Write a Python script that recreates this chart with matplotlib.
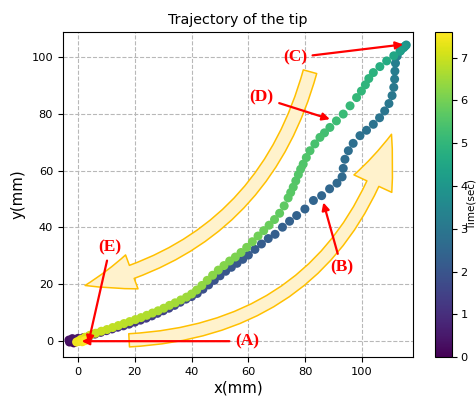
import matplotlib
matplotlib.use("Agg")
import matplotlib.pyplot as plt
from matplotlib.patches import FancyArrowPatch, ArrowStyle

# ---- data: outbound path (tip moving out) ----
out_x = [0.0, -1.5, -3.0, -3.2, -2.0, 0.0, 2.0, 4.0, 6.0, 8.0, 10.0, 12.0, 14.0, 16.0,
         18.0, 20.0, 22.0, 24.0, 26.0, 28.0, 30.0, 32.0, 34.0, 36.0, 38.0, 40.0, 42.0,
         44.0, 46.0, 48.0, 50.0, 52.0, 54.0, 56.0, 58.0, 60.0, 62.3, 64.6, 67.0, 69.4,
         72.0, 74.5, 77.0, 79.9, 82.9, 85.8, 88.6, 91.2, 93.0, 93.4, 94.0, 95.2, 96.9,
         99.3, 101.6, 104.0, 106.2, 108.0, 109.5, 110.6, 111.2, 111.5, 111.6, 111.8,
         112.4, 113.6, 114.8, 115.6]
out_y = [0.0, -0.6, -0.3, 0.4, 0.9, 1.0, 1.3, 1.8, 2.5, 3.1, 3.7, 4.3, 4.9, 5.4,
         6.0, 6.7, 7.4, 8.1, 8.9, 9.8, 10.7, 11.6, 12.6, 13.7, 14.8, 15.7, 16.8,
         18.3, 19.8, 21.4, 23.0, 24.6, 26.0, 27.4, 28.8, 30.3, 32.3, 34.2, 36.1, 37.6,
         40.1, 42.2, 44.2, 46.5, 49.5, 51.2, 53.6, 55.6, 57.8, 60.8, 64.0, 67.0, 69.6,
         72.3, 74.2, 76.3, 78.6, 81.0, 83.6, 86.4, 89.3, 92.2, 95.0, 97.8,
         100.3, 102.2, 103.5, 104.2]
out_t = [0.0, 0.1, 0.2, 0.3, 0.4, 0.5, 0.6, 0.7, 0.8, 0.9, 1.0, 1.05, 1.1, 1.15,
         1.2, 1.25, 1.3, 1.35, 1.4, 1.45, 1.5, 1.55, 1.6, 1.65, 1.7, 1.75, 1.8,
         1.85, 1.9, 1.95, 2.0, 2.03, 2.06, 2.09, 2.12, 2.15, 2.18, 2.21, 2.24, 2.27,
         2.3, 2.33, 2.36, 2.4, 2.44, 2.48, 2.52, 2.56, 2.6, 2.64, 2.68, 2.72, 2.76,
         2.8, 2.84, 2.88, 2.92, 2.96, 3.0, 3.04, 3.08, 3.12, 3.16, 3.22,
         3.3, 3.45, 3.6, 3.8]

# ---- data: return path (tip moving back) ----
back_x = [115.2, 114.6, 113.4, 111.2, 108.7, 106.3, 104.0, 102.4, 101.2, 99.8, 98.1,
          95.8, 93.4, 91.0, 88.7, 86.8, 85.2, 83.4, 81.7, 80.4, 79.3, 78.4, 77.6, 76.7,
          75.8, 74.9, 74.0, 72.6, 71.0, 69.2, 67.3, 65.4, 63.4, 61.4, 59.4, 57.4, 55.4,
          53.4, 51.4, 49.4, 47.4, 45.5, 43.6, 41.8, 40.0, 38.2, 36.2, 34.2, 32.2, 30.2,
          28.2, 26.2, 24.2, 22.2, 20.2, 18.2, 16.2, 14.2, 12.2, 10.2, 8.2, 6.2, 4.2,
          2.5, 1.0, 0.2, -0.5, 1.5, 2.5]
back_y = [103.8, 103.2, 102.0, 100.4, 98.6, 96.6, 94.5, 92.4, 90.2, 88.0, 85.7,
          82.8, 79.9, 77.5, 75.2, 73.3, 71.7, 69.4, 67.0, 64.6, 62.3, 60.5, 58.6, 56.4,
          54.2, 52.3, 50.4, 47.6, 45.0, 42.8, 40.8, 38.9, 37.0, 35.0, 33.0, 31.2, 29.6,
          28.2, 26.6, 25.0, 23.2, 21.4, 19.6, 18.0, 16.6, 15.5, 14.5, 13.5, 12.6, 11.6,
          10.7, 9.9, 9.1, 8.3, 7.6, 6.9, 6.2, 5.5, 4.8, 4.1, 3.5, 2.8, 2.1,
          1.4, 0.6, 0.0, -0.3, -0.2, 0.2]
back_t = [3.95, 4.1, 4.3, 4.5, 4.65, 4.75, 4.85, 4.9, 4.95, 5.0, 5.05,
          5.1, 5.15, 5.2, 5.25, 5.3, 5.35, 5.4, 5.45, 5.5, 5.52, 5.54, 5.56, 5.58,
          5.6, 5.63, 5.66, 5.7, 5.75, 5.8, 5.85, 5.9, 5.95, 6.0, 6.03, 6.06, 6.1,
          6.14, 6.18, 6.22, 6.26, 6.3, 6.35, 6.4, 6.45, 6.48, 6.51, 6.54, 6.57, 6.6,
          6.63, 6.66, 6.69, 6.72, 6.75, 6.78, 6.81, 6.84, 6.87, 6.9, 6.95, 7.0, 7.05,
          7.15, 7.25, 7.35, 7.45, 7.5, 7.6]

t_max = 7.6
cbar_ticks = [0, 1, 2, 3, 4, 5, 6, 7]
x_ticks = [0, 20, 40, 60, 80, 100]
y_ticks = [0, 20, 40, 60, 80, 100]

fig = plt.figure(figsize=(4.77, 3.99), dpi=100)
ax = fig.add_axes([0.132, 0.105, 0.734, 0.815])
cax = fig.add_axes([0.912, 0.105, 0.0356, 0.815])

xs = out_x + back_x
ys = out_y + back_y
ts = out_t + back_t
sc = ax.scatter(xs, ys, c=ts, cmap="viridis", vmin=0, vmax=t_max, s=42,
                linewidths=0, zorder=3)

ax.set_xlim(-5.3, 118)
ax.set_ylim(-5.6, 108.8)
ax.set_xticks(x_ticks)
ax.set_yticks(y_ticks)
ax.tick_params(labelsize=8.2)
ax.grid(True, linestyle="--", color="#b8b8b8", linewidth=0.8, zorder=0)
ax.set_axisbelow(True)
ax.set_title("Trajectory of the tip", fontsize=10.3)
ax.set_xlabel("x(mm)", fontsize=10.8, labelpad=3)
ax.set_ylabel("y(mm)", fontsize=10.8)

cb = fig.colorbar(sc, cax=cax, ticks=cbar_ticks)
cb.ax.tick_params(labelsize=8.2, pad=2.5)
fig.text(0.9985, 1 - 205 / 399, "Time(sec)", rotation=90, ha="right",
         va="center", fontsize=7.5)

# big yellow curved arrows
fill_c = "#FFF2CC"
edge_c = "#FFC000"
lower = FancyArrowPatch((18.0, 0.3), (110.4, 72.8),
                        arrowstyle=ArrowStyle.Simple(head_length=38, head_width=30,
                                                     tail_width=9.5),
                        connectionstyle="arc3,rad=0.35", mutation_scale=1,
                        fc=fill_c, ec=edge_c, lw=1.1, shrinkA=0, shrinkB=0,
                        zorder=2, transform=ax.transData)
ax.add_patch(lower)
upper = FancyArrowPatch((81.7, 94.8), (2.5, 19.6),
                        arrowstyle=ArrowStyle.Simple(head_length=35, head_width=26,
                                                     tail_width=10),
                        connectionstyle="arc3,rad=-0.30", mutation_scale=1,
                        fc=fill_c, ec=edge_c, lw=1.1, shrinkA=0, shrinkB=0,
                        zorder=2, transform=ax.transData)
ax.add_patch(upper)

# red annotations
ann_font = dict(family="Liberation Serif", weight="bold", size=12.5, color="red")
arrow_kw = dict(arrowstyle="-|>", color="red", lw=1.6, mutation_scale=11,
                shrinkA=2, shrinkB=0)
ax.annotate("(A)", xy=(1.3, 0.0), xytext=(59.5, 0.0), ha="center", va="center",
            arrowprops=arrow_kw, zorder=5, **ann_font)
ax.annotate("(B)", xy=(86.4, 48.8), xytext=(92.8, 26.0), ha="center", va="center",
            arrowprops=arrow_kw, zorder=5, **ann_font)
ax.annotate("(C)", xy=(114.5, 104.4), xytext=(76.4, 99.8), ha="center", va="center",
            arrowprops=arrow_kw, zorder=5, **ann_font)
ax.annotate("(D)", xy=(88.7, 78.1), xytext=(64.7, 85.7), ha="center", va="center",
            arrowprops=arrow_kw, zorder=5, **ann_font)
ax.annotate("(E)", xy=(3.6, -0.8), xytext=(11.3, 33.1), ha="center", va="center",
            arrowprops=arrow_kw, zorder=5, **ann_font)

fig.savefig("out.png", dpi=100)
